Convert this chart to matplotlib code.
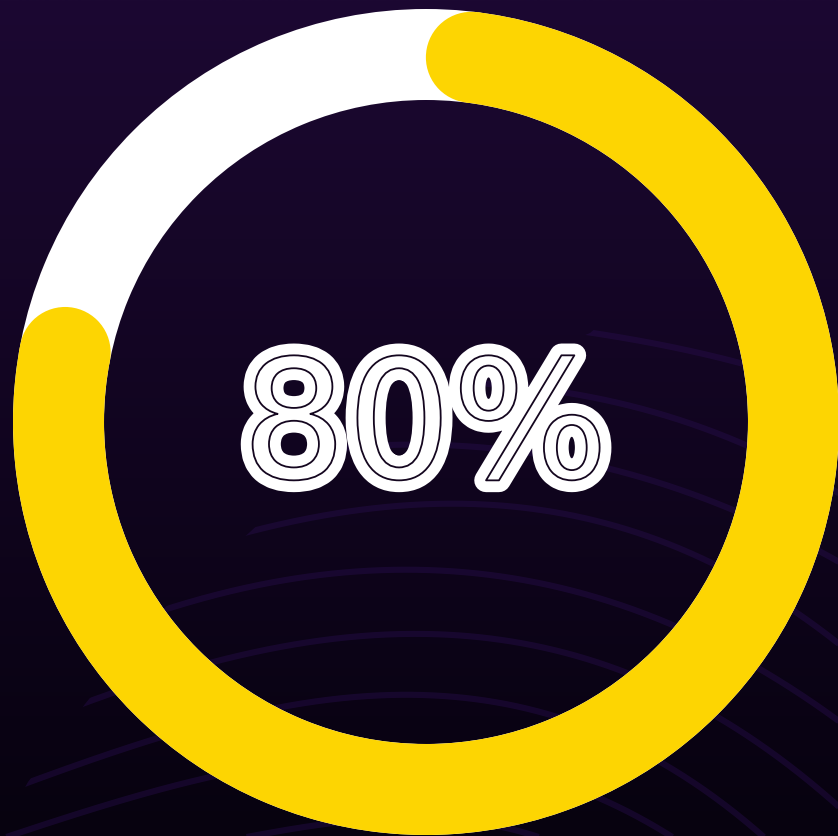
import numpy as np
import matplotlib
matplotlib.use("Agg")
import matplotlib.pyplot as plt
from matplotlib.patches import Wedge, Circle, Polygon
import matplotlib.patheffects as pe

# ---------------- data ----------------
percent = 80
label = f"{percent}%"

# decorative background curves (pixel coords, x, y)
curve_1 = [(560, 328), (613, 337), (680, 348), (737, 362), (790, 378), (850, 398)]
curve_2 = [(440, 382), (520, 386), (587, 397), (670, 417), (743, 443), (800, 472), (850, 500)]
curve_3 = [(310, 452), (420, 443), (520, 452), (620, 473), (690, 494), (737, 510), (817, 548), (850, 570)]
curve_4 = [(220, 540), (260, 530), (340, 511), (420, 502), (500, 508), (587, 523), (660, 540), (720, 560), (793, 615), (850, 652)]
curve_5 = [(130, 618), (170, 610), (300, 585), (420, 566), (510, 574), (587, 590), (653, 620), (753, 673), (850, 725)]
curve_6 = [(55, 712), (92, 702), (217, 663), (320, 643), (420, 629), (553, 647), (620, 673), (740, 734), (850, 815)]
curve_7 = [(0, 792), (33, 780), (150, 745), (273, 707), (420, 692), (520, 707), (570, 720), (660, 767), (753, 827), (780, 850)]
curve_8 = [(-30, 850), (100, 805), (225, 773), (330, 760), (420, 757), (520, 770), (593, 793), (690, 850)]
curve_9 = [(180, 850), (270, 832), (348, 822), (420, 818), (500, 826), (560, 845)]
curves = [curve_1, curve_2, curve_3, curve_4, curve_5, curve_6, curve_7, curve_8, curve_9]
# left boundary where the curves start (tapered cut)
start_edge = [(640, 290), (590, 333), (470, 383), (340, 447), (250, 532), (160, 612),
              (85, 704), (28, 782), (-10, 850)]

# ---------------- figure ----------------
W, H = 838, 836
fig = plt.figure(figsize=(W / 100, H / 100), dpi=100)
ax = fig.add_axes([0, 0, 1, 1])
ax.set_xlim(0, W)
ax.set_ylim(H, 0)
ax.axis("off")

# background gradient
top = np.array([28, 8, 50]) / 255
bot = np.array([7, 2, 15]) / 255
t = np.linspace(0, 1, 400)[:, None, None]
grad = top * (1 - t) + bot * t
ax.imshow(grad, extent=[0, W, H, 0], aspect="auto", zorder=0, interpolation="bilinear")


def smooth_curve(pts, n=300):
    P = np.array(pts, float)
    deg = 3 if len(P) > 4 else 2
    coef = np.polyfit(P[:, 0], P[:, 1], deg)
    xs = np.linspace(P[0, 0], P[-1, 0], n)
    return xs, np.polyval(coef, xs)


clip_poly = Polygon(start_edge + [(900, 860), (900, 250)], closed=True,
                    transform=ax.transData, facecolor="none", edgecolor="none")
ax.add_patch(clip_poly)
for c in curves:
    xs, ys = smooth_curve(c)
    ln, = ax.plot(xs, ys, color=(0.17, 0.06, 0.33), alpha=0.38, lw=4.4,
                  solid_capstyle="butt", zorder=1)
    ln.set_clip_path(clip_poly)

# ---------------- progress ring ----------------
cx, cy = 426, 422
r_out = 413
ring_w = 91
r_mid = r_out - ring_w / 2
cap_r = ring_w / 2

ax.add_patch(Wedge((cx, cy), r_out, 0, 360, width=ring_w, facecolor="white",
                   edgecolor="none", zorder=2))

cap_ang = np.degrees(cap_r / r_mid)
phi_start = cap_ang
phi_end = 360 * percent / 100 - cap_ang
yellow = "#FDD502"
ax.add_patch(Wedge((cx, cy), r_out, phi_start - 90, phi_end - 90, width=ring_w,
                   facecolor=yellow, edgecolor="none", zorder=3))
for phi in (phi_start, phi_end):
    pr = np.radians(phi)
    ax.add_patch(Circle((cx + r_mid * np.sin(pr), cy - r_mid * np.cos(pr)), cap_r,
                        facecolor=yellow, edgecolor="none", zorder=3))

# ---------------- center label ----------------
ax.text(425, 478, label, fontsize=119, color="white", ha="center", va="baseline",
        family="DejaVu Sans", zorder=5,
        path_effects=[pe.Stroke(linewidth=17, foreground="white", joinstyle="round"),
                      pe.Stroke(linewidth=1.3, foreground="#14061f")])

fig.savefig("out.png", dpi=100, facecolor=top)
